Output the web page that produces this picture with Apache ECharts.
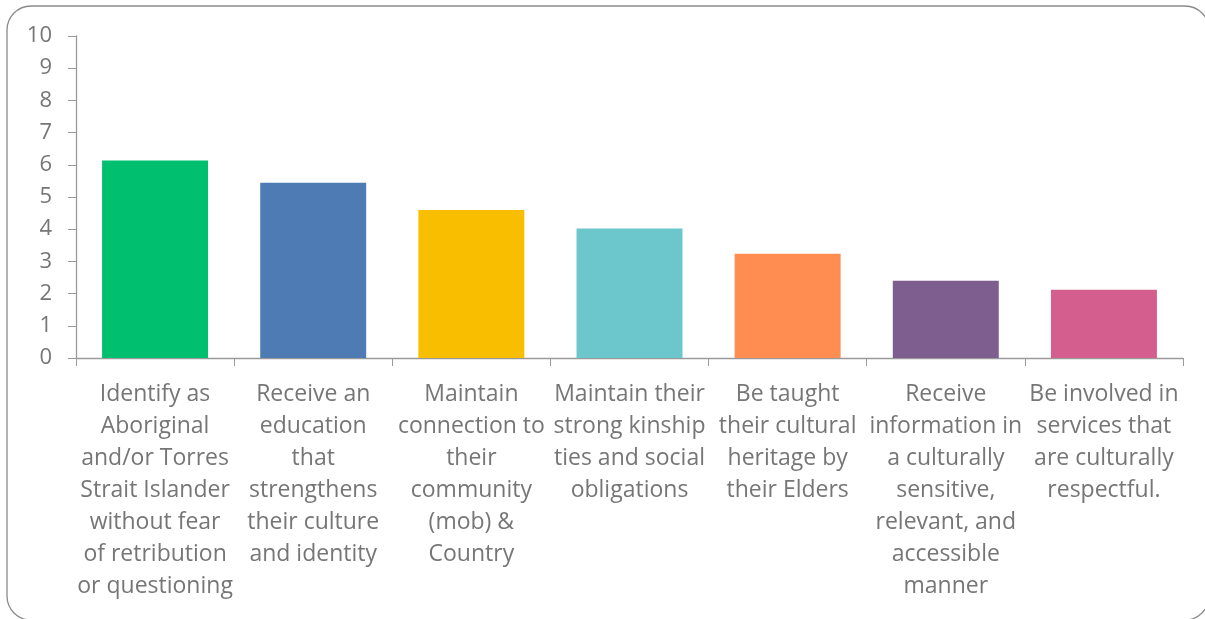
<!DOCTYPE html>
<html>
<head>
<meta charset="utf-8">
<script src="https://cdn.jsdelivr.net/npm/echarts@6/dist/echarts.min.js"></script>
<style>
  html, body { margin: 0; padding: 0; background: #fff; }
  #chart { width: 1205px; height: 619px; }
</style>
</head>
<body>
<div id="chart"></div>
<script>
// Category labels, wrapped as they appear under each bar
const categories = [
  'Identify as\nAboriginal\nand/or Torres\nStrait Islander\nwithout fear\nof retribution\nor questioning',
  'Receive an\neducation\nthat\nstrengthens\ntheir culture\nand identity',
  'Maintain\nconnection to\ntheir\ncommunity\n(mob) &\nCountry',
  'Maintain their\nstrong kinship\nties and social\nobligations',
  'Be taught\ntheir cultural\nheritage by\ntheir Elders',
  'Receive\ninformation in\na culturally\nsensitive,\nrelevant, and\naccessible\nmanner',
  'Be involved in\nservices that\nare culturally\nrespectful.'
];

// Score for each item
const values = [6.13, 5.44, 4.6, 4.02, 3.24, 2.4, 2.12];

// One fill per bar
const barColors = ['#00BF6F', '#4F7BB4', '#F9BE00', '#6CC7CC', '#FF8C50', '#7E5E8E', '#D45F8E'];

// Value axis range
const yMin = 0;
const yMax = 10;
const yStep = 1;

const FONT = 'Open Sans';
const TEXT = '#767676';
const AXIS = '#9a9a9a';

const chart = echarts.init(document.getElementById('chart'), null, { renderer: 'canvas' });

chart.setOption({
  animation: false,
  backgroundColor: '#ffffff',
  graphic: [{
    type: 'rect',
    shape: { x: 7, y: 6, width: 1202, height: 614, r: 24 },
    style: { fill: 'none', stroke: '#8a8a8a', lineWidth: 1.3 },
    silent: true,
    z: -1
  }],
  grid: { left: 76, right: 22, top: 36, bottom: 261, containLabel: false },
  xAxis: {
    type: 'category',
    data: categories,
    axisLine: { show: true, lineStyle: { color: AXIS, width: 1.3 } },
    axisTick: { show: true, length: 8, lineStyle: { color: AXIS } },
    axisLabel: {
      interval: 0,
      margin: 20,
      color: TEXT,
      fontFamily: FONT,
      fontSize: 23,
      lineHeight: 32,
      align: 'center'
    },
    splitLine: { show: false }
  },
  yAxis: {
    type: 'value',
    min: yMin,
    max: yMax,
    interval: yStep,
    axisLine: { show: true, lineStyle: { color: AXIS, width: 1.3 } },
    axisTick: { show: true, length: 8, lineStyle: { color: AXIS } },
    axisLabel: {
      margin: 24,
      color: TEXT,
      fontFamily: FONT,
      fontSize: 22
    },
    splitLine: { show: false }
  },
  series: [{
    type: 'bar',
    data: values.map((v, i) => ({ value: v, itemStyle: { color: barColors[i] } })),
    barCategoryGap: '33%'
  }]
});
</script>
</body>
</html>
